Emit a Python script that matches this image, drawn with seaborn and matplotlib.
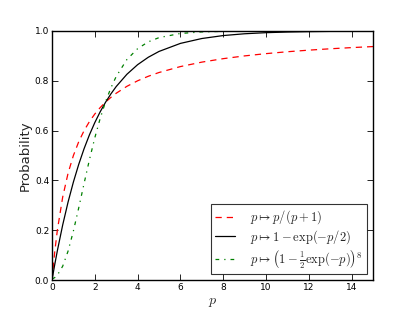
import matplotlib
matplotlib.use("Agg")
import matplotlib.pyplot as plt
import seaborn as sns
import pandas as pd

p_vals = [0, 0.125, 0.25, 0.5, 0.75, 1, 1.25, 1.5, 1.75, 2, 2.25, 2.5, 2.75, 3,
          3.5, 4, 4.5, 5, 6, 7, 8, 9, 10, 11, 12, 13, 14, 15]
ratio_vals = [0, 0.1111, 0.2, 0.3333, 0.4286, 0.5, 0.5556, 0.6, 0.6364, 0.6667,
              0.6923, 0.7143, 0.7333, 0.75, 0.7778, 0.8, 0.8182, 0.8333, 0.8571,
              0.875, 0.8889, 0.9, 0.9091, 0.9167, 0.9231, 0.9286, 0.9333, 0.9375]
expo_vals = [0, 0.0606, 0.1175, 0.2212, 0.3127, 0.3935, 0.4647, 0.5276, 0.5831,
             0.6321, 0.6753, 0.7135, 0.7472, 0.7769, 0.8262, 0.8647, 0.8946,
             0.9179, 0.9502, 0.9698, 0.9817, 0.9889, 0.9933, 0.9959, 0.9975,
             0.9985, 0.9991, 0.9994]
power_vals = [0.0039, 0.0095, 0.0193, 0.0555, 0.1158, 0.1967, 0.2902, 0.3881,
              0.4833, 0.5710, 0.6485, 0.7152, 0.7711, 0.8174, 0.8854, 0.9290,
              0.9565, 0.9734, 0.9901, 0.9964, 0.9987, 0.9995, 0.9998, 0.9999,
              1.0, 1.0, 1.0, 1.0]
labels = [r"$p\mapsto p/(p+1)$", r"$p\mapsto 1-\exp(-p/2)$",
          r"$p\mapsto \left(1-\frac{1}{2}\exp(-p)\right)^8$"]
colors = ["red", "black", "green"]
styles = [(0, (5, 4)), "-", (0, (3, 4, 1, 4))]

sns.set_theme(style="white")
plt.rcParams["font.family"] = ["DejaVu Sans"]
plt.rcParams["mathtext.fontset"] = "cm"

fig = plt.figure(figsize=(4.15, 3.12), dpi=100)
ax = fig.add_axes([52 / 415, 1 - 280 / 312, (373 - 52) / 415, (280 - 31) / 312])

df = pd.DataFrame({"p": p_vals, "a": ratio_vals, "b": expo_vals, "c": power_vals})
for col, lab, c, ls in zip(["a", "b", "c"], labels, colors, styles):
    sns.lineplot(data=df, x="p", y=col, ax=ax, color=c, linestyle=ls,
                 linewidth=0.9, label=lab)

ax.set_xlim(0, 15)
ax.set_ylim(0, 1)
ax.set_xticks([0, 2, 4, 6, 8, 10, 12, 14])
ax.set_yticks([0.0, 0.2, 0.4, 0.6, 0.8, 1.0])
ax.set_yticklabels(["0.0", "0.2", "0.4", "0.6", "0.8", "1.0"])
ax.tick_params(direction="in", length=4, width=0.6, labelsize=6.5, pad=2,
               top=True, right=True, bottom=True, left=True, colors="black")
for s in ax.spines.values():
    s.set_color("black")
    s.set_linewidth(1.0)
ax.set_xlabel(r"$p$", fontsize=10, labelpad=2)
ax.set_ylabel("Probability", fontsize=9.5, labelpad=2)
leg = ax.legend(loc="lower right", fontsize=9, frameon=True, fancybox=False,
                edgecolor="black", borderpad=0.35, handlelength=1.6,
                handletextpad=1.2, labelspacing=0.15, borderaxespad=0.45)
leg.get_frame().set_linewidth(0.8)
fig.savefig("out.png", dpi=100, facecolor="white")
